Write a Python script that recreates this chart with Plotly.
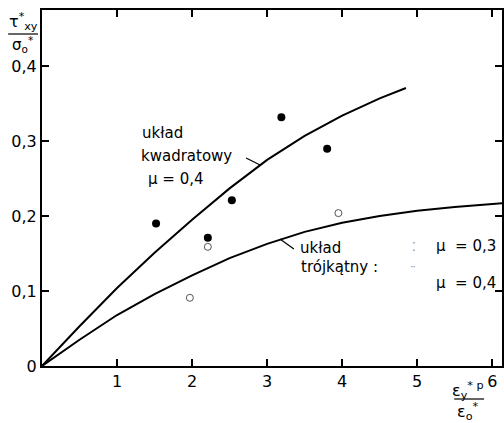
import plotly.graph_objects as go

# --- data ---
square_x = [0, 0.5, 1.0, 1.5, 2.0, 2.5, 3.0, 3.5, 4.0, 4.5, 4.85]
square_y = [0, 0.053, 0.104, 0.151, 0.195, 0.237, 0.275, 0.307, 0.334, 0.357, 0.371]

tri_x = [0, 0.5, 1.0, 1.5, 2.0, 2.5, 3.0, 3.5, 4.0, 4.5, 5.0, 5.5, 6.13]
tri_y = [0, 0.035, 0.068, 0.096, 0.121, 0.144, 0.163, 0.179, 0.191, 0.200, 0.207, 0.212, 0.217]

filled_x = [1.52, 2.21, 2.53, 3.19, 3.80]
filled_y = [0.190, 0.171, 0.221, 0.332, 0.290]

open_x = [1.97, 2.21, 3.95]
open_y = [0.091, 0.159, 0.204]

x_ticks = [1, 2, 3, 4, 5, 6]
x_ticktext = ["1", "2", "3", "4", "5", "6"]
y_ticks = [0, 0.1, 0.2, 0.3, 0.4]
y_ticktext = ["0", "0,1", "0,2", "0,3", "0,4"]

FONT = "DejaVu Sans"
W, H = 504, 423
L, R, T, B = 42, 0, 10, 57
PW, PH = W - L - R, H - T - B


def px(xp):
    return (xp - L) / PW


def py(yp):
    return (H - B - yp) / PH


fig = go.Figure()
fig.add_trace(go.Scatter(x=square_x, y=square_y, mode="lines",
                         line=dict(color="black", width=2),
                         showlegend=False, hoverinfo="skip"))
fig.add_trace(go.Scatter(x=tri_x, y=tri_y, mode="lines",
                         line=dict(color="black", width=2),
                         showlegend=False, hoverinfo="skip"))
fig.add_trace(go.Scatter(x=filled_x, y=filled_y, mode="markers",
                         marker=dict(color="black", size=8, symbol="circle"),
                         showlegend=False))
fig.add_trace(go.Scatter(x=open_x, y=open_y, mode="markers",
                         marker=dict(color="#555", size=7, symbol="circle-open",
                                     line=dict(width=1)),
                         showlegend=False))

axis_common = dict(showline=True, linecolor="black", linewidth=2, mirror="ticks",
                   ticks="inside", ticklen=7, tickwidth=1.5, tickcolor="black",
                   showgrid=False, zeroline=False,
                   tickfont=dict(family=FONT, size=16, color="black"))

fig.update_xaxes(range=[0, 6.13], tickvals=x_ticks, ticktext=x_ticktext, **axis_common)
fig.update_yaxes(range=[0, 0.475], tickvals=y_ticks, ticktext=y_ticktext, **axis_common)

# leader lines
fig.add_shape(type="line", x0=px(247), y0=py(158), x1=px(261), y1=py(165),
              xref="paper", yref="paper", line=dict(color="black", width=1.2))
fig.add_shape(type="line", x0=px(281), y0=py(239), x1=px(295), y1=py(249),
              xref="paper", yref="paper", line=dict(color="black", width=1.2))

ann = []


def txt(xp, yp, s, size=15, anchor="left"):
    ann.append(dict(x=px(xp), y=py(yp), xref="paper", yref="paper", text=s,
                    showarrow=False, xanchor=anchor, yanchor="middle",
                    font=dict(family=FONT, size=size, color="black")))


txt(140, 133, "układ")
txt(139, 156, "kwadratowy")
txt(146, 179, "μ = 0,4")
txt(299, 248, "układ")
txt(300, 267, "trójkątny :")
txt(436, 246, "μ  = 0,3")
txt(436, 283, "μ  = 0,4")

# faint legend symbols
ann.append(dict(x=px(420), y=py(247), xref="paper", yref="paper", text="⁚",
                showarrow=False, font=dict(family=FONT, size=12, color="#888")))
ann.append(dict(x=px(420), y=py(280), xref="paper", yref="paper", text="¨",
                showarrow=False, font=dict(family=FONT, size=12, color="#999")))

# y-axis title (fraction)
txt(23, 21, "τ<sup>*</sup><sub>xy</sub>", size=16, anchor="center")
txt(22, 44, "σ<sub>o</sub><sup>*</sup>", size=15, anchor="center")
fig.add_shape(type="line", x0=px(8), y0=py(34), x1=px(38), y1=py(34),
              xref="paper", yref="paper", line=dict(color="black", width=1.2))

# x-axis title (fraction)
txt(470, 390, "ε<sub>y</sub><sup>* p</sup>", size=16, anchor="center")
txt(470, 411, "ε<sub>o</sub><sup>*</sup>", size=16, anchor="center")
fig.add_shape(type="line", x0=px(456), y0=py(399), x1=px(486), y1=py(399),
              xref="paper", yref="paper", line=dict(color="black", width=1.2))

fig.update_layout(width=W, height=H, margin=dict(l=L, r=R, t=T, b=B),
                  plot_bgcolor="white", paper_bgcolor="white",
                  annotations=ann, showlegend=False)

fig.write_html("out.html")
